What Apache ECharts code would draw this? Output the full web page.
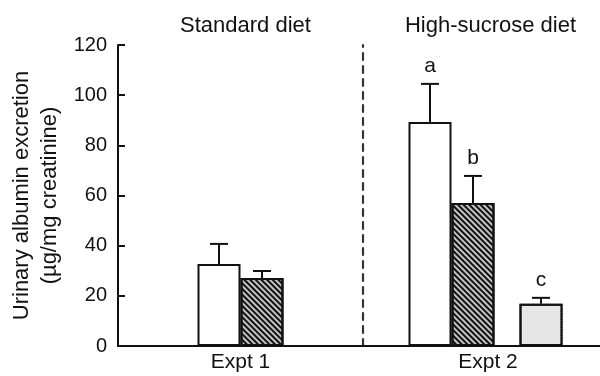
<!DOCTYPE html>
<html>
<head>
<meta charset="utf-8">
<script src="https://cdn.jsdelivr.net/npm/echarts@6/dist/echarts.min.js"></script>
<style>html,body{margin:0;padding:0;background:#fff}#c{width:600px;height:376px}</style>
</head>
<body>
<div id="c"></div>
<script>
// ---- data ----
const experiments = ['Expt 1', 'Expt 2'];
const dietTitles = ['Standard diet', 'High-sucrose diet'];
const yTicks = [0, 20, 40, 60, 80, 100, 120];
// bar groups per experiment (null = no bar)
const whiteMean   = [32.7, 89.3];
const whiteErr    = [8.0, 15.2];
const hatchMean   = [27.1, 57.0];
const hatchErr    = [2.8, 10.8];
const dottedMean  = [null, 16.8];
const dottedErr   = [null, 2.4];
const letters = { white: ['', 'a'], hatch: ['', 'b'], dotted: ['', 'c'] };

// ---- styles / layout ----
const FONT = 'Liberation Sans, Arial, Helvetica, sans-serif';
const BW = 43, GAP = 25;
const LEAD_PAD = [0, 8];      // small left padding inside each group (px)
const LABEL_PAD = [0, 13];    // nudges category label to the right
const TXT = '#111';
const barStyles = {
  white: { color: '#ffffff', borderColor: '#111', borderWidth: 2 },
  hatch: { color: '#c4c4c4', borderColor: '#111', borderWidth: 2,
           decal: { symbol: 'rect', symbolSize: 1, dashArrayX: [1, 0], dashArrayY: [1.6, 1.2], rotation: Math.PI / 4, color: '#111' } },
  dotted: { color: '#e2e2e2', borderColor: '#111', borderWidth: 2,
           decal: { symbol: 'rect', symbolSize: 1, dashArrayX: [1, 1], dashArrayY: [1, 1], rotation: 0, color: '#f2f2f2' } }
};

const chart = echarts.init(document.getElementById('c'));

const grids = [
  { left: 118, right: 237, top: 45, bottom: 30, containLabel: false },
  { left: 363, right: 0, top: 45, bottom: 30, containLabel: false }
];

const xAxes = experiments.map((e, i) => ({
  type: 'category', gridIndex: i, data: [e],
  axisLine: { lineStyle: { color: '#111', width: 2 } },
  axisTick: { show: false },
  axisLabel: { color: TXT, fontSize: 21, fontFamily: FONT, margin: 6, padding: [0, 0, 0, LABEL_PAD[i]] }
}));

const yAxes = [
  {
    type: 'value', gridIndex: 0, min: yTicks[0], max: yTicks[yTicks.length - 1], interval: 20,
    axisLine: { show: true, lineStyle: { color: '#111', width: 2 } },
    axisTick: { show: true, inside: true, length: 7, lineStyle: { color: '#111', width: 2 } },
    axisLabel: { color: TXT, fontSize: 20, fontFamily: FONT, margin: 11 },
    splitLine: { show: false },
    name: 'Urinary albumin excretion\n(\u00b5g/mg creatinine)',
    nameLocation: 'middle', nameGap: 54, nameRotate: 90,
    nameTextStyle: { color: TXT, fontSize: 22, fontFamily: FONT, lineHeight: 28 }
  },
  {
    type: 'value', gridIndex: 1, min: yTicks[0], max: yTicks[yTicks.length - 1], interval: 20,
    axisLine: { show: true, lineStyle: { color: '#333', width: 2.2, type: [7, 6] } },
    axisTick: { show: false }, axisLabel: { show: false }, splitLine: { show: false }
  }
];

// group definitions per experiment
function groupFor(i) {
  const items = [];
  if (LEAD_PAD[i]) items.push({ key: 'spacer', mean: null, err: null, w: LEAD_PAD[i] });
  if (whiteMean[i] != null) items.push({ key: 'white', mean: whiteMean[i], err: whiteErr[i], w: BW });
  if (hatchMean[i] != null) items.push({ key: 'hatch', mean: hatchMean[i], err: hatchErr[i], w: BW });
  if (dottedMean[i] != null) {
    items.push({ key: 'spacer', mean: null, err: null, w: GAP });
    items.push({ key: 'dotted', mean: dottedMean[i], err: dottedErr[i], w: BW });
  }
  const total = items.reduce((s, it) => s + it.w, 0);
  let off = -total / 2;
  items.forEach(it => { it.offset = off + it.w / 2; off += it.w; });
  return items;
}

const series = [];
experiments.forEach((e, i) => {
  const items = groupFor(i);
  items.forEach(it => {
    series.push({
      type: 'bar', xAxisIndex: i, yAxisIndex: i, barWidth: it.w, barGap: '0%',
      data: [it.mean], silent: true,
      itemStyle: it.key === 'spacer' ? { color: 'transparent' } : barStyles[it.key]
    });
  });
  const errData = items.filter(it => it.mean != null).map(it => [0, it.mean, it.err, it.offset, letters[it.key][i]]);
  series.push({
    type: 'custom', xAxisIndex: i, yAxisIndex: i, silent: true, z: 5,
    data: errData,
    renderItem: function (params, api) {
      const base = api.coord([api.value(0), api.value(1)]);
      const topPt = api.coord([api.value(0), api.value(1) + api.value(2)]);
      const x = base[0] + api.value(3);
      const half = 9;
      const children = [
        { type: 'line', shape: { x1: x, y1: base[1], x2: x, y2: topPt[1] }, style: { stroke: '#111', lineWidth: 2 } },
        { type: 'line', shape: { x1: x - half, y1: topPt[1], x2: x + half, y2: topPt[1] }, style: { stroke: '#111', lineWidth: 2 } }
      ];
      const lab = errData[params.dataIndex][4];
      if (lab) children.push({ type: 'text', x: x, y: topPt[1] - 7,
        style: { text: lab, fill: TXT, font: '21px ' + FONT, align: 'center', verticalAlign: 'bottom' } });
      return { type: 'group', children: children };
    }
  });
});

const titles = dietTitles.map((t, i) => ({
  text: t, left: [240.5, 485.5][i], top: 10, textAlign: 'center',
  textStyle: { color: TXT, fontSize: 22, fontWeight: 'normal', fontFamily: FONT }
}));

chart.setOption({
  animation: false,
  backgroundColor: '#fff',
  title: titles,
  grid: grids,
  xAxis: xAxes,
  yAxis: yAxes,
  series: series
});
</script>
</body>
</html>
